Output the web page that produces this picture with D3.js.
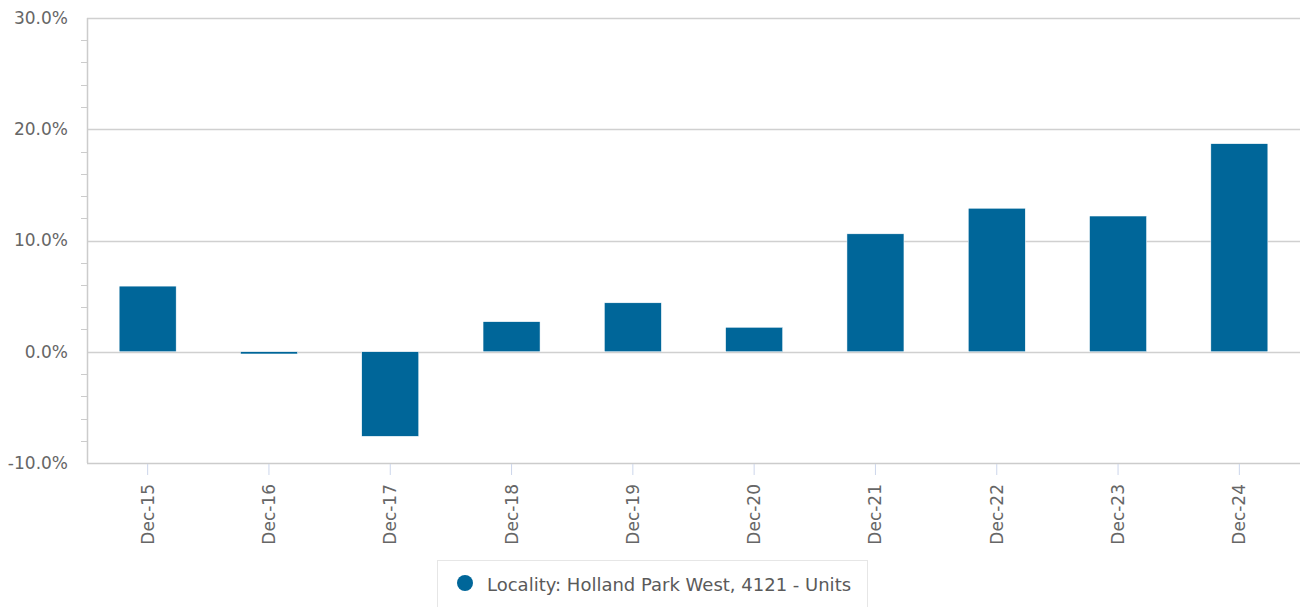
<!DOCTYPE html>
<html><head><meta charset="utf-8">
<script src="https://cdn.jsdelivr.net/npm/d3@7"></script>
<style>
body{margin:0;background:#fff;}
svg text{font-family:'DejaVu Sans','Bitstream Vera Sans',Verdana,sans-serif !important;}
</style></head>
<body>
<svg id="c" width="1304" height="607"></svg>
<script>
const categories = ["Dec-15","Dec-16","Dec-17","Dec-18","Dec-19","Dec-20","Dec-21","Dec-22","Dec-23","Dec-24"];
const values = [5.9, -0.2, -7.6, 2.7, 4.4, 2.2, 10.6, 12.9, 12.2, 18.7];
const yTicks = [-10, 0, 10, 20, 30];
const seriesName = "Locality: Holland Park West, 4121 - Units";

const svg = d3.select("#c");
const L = 87, R = 1300, T = 18, B = 463;
const x = d3.scaleBand().domain(categories).range([L, R]);
const y = d3.scaleLinear().domain([-10, 30]).range([B, T]);
const color = "#006699";

// gridlines
svg.append("g").selectAll("line").data(yTicks.filter(d => d !== -10)).join("line")
  .attr("x1", L).attr("x2", R).attr("y1", d => Math.round(y(d)) + 0.5).attr("y2", d => Math.round(y(d)) + 0.5)
  .attr("stroke", "#d0d0d0").attr("stroke-width", 1.5);

// minor ticks
const minor = d3.range(-10, 30.01, 2).filter(d => d % 10 !== 0);
svg.append("g").selectAll("line").data(minor).join("line")
  .attr("x1", L - 6).attr("x2", L).attr("y1", d => Math.round(y(d)) + 0.5).attr("y2", d => Math.round(y(d)) + 0.5)
  .attr("stroke", "#ccc").attr("stroke-width", 1);

// y axis line
svg.append("line").attr("x1", L + 0.5).attr("x2", L + 0.5).attr("y1", T).attr("y2", B)
  .attr("stroke", "#ccc").attr("stroke-width", 1.5);

// y labels
const yAxis = d3.axisLeft(y).tickValues(yTicks).tickSize(0).tickPadding(0)
  .tickFormat(d => (d < 0 ? "-" : "") + d3.format(".1f")(Math.abs(d)) + "%");
const ya = svg.append("g").attr("transform", `translate(${L - 19},0)`).call(yAxis);
ya.select(".domain").remove();
ya.selectAll("text").attr("font-size", 17).attr("fill", "#666");

// bars
svg.append("g").selectAll("rect").data(values).join("rect")
  .attr("x", (d, i) => x(categories[i]) + (x.bandwidth() - 57) / 2)
  .attr("width", 57)
  .attr("y", d => y(Math.max(0, d)))
  .attr("height", d => Math.abs(y(d) - y(0)))
  .attr("fill", color).attr("stroke", "#fff").attr("stroke-width", 0.5);

// x axis line
svg.append("line").attr("x1", L).attr("x2", R).attr("y1", B + 0.5).attr("y2", B + 0.5)
  .attr("stroke", "#ccc").attr("stroke-width", 1.5);

// x axis ticks and labels
const xAxis = d3.axisBottom(x).tickSize(11).tickPadding(6);
const xa = svg.append("g").attr("transform", `translate(0,${B + 1})`).call(xAxis);
xa.select(".domain").remove();
xa.selectAll(".tick line").attr("stroke", "#ccd6eb");
xa.selectAll("text").attr("font-size", 17).attr("fill", "#666")
  .attr("transform", "rotate(-90)").attr("text-anchor", "end").attr("dy", "0.35em")
  .attr("x", -20).attr("y", 0);

// legend
const lg = svg.append("g");
lg.append("rect").attr("x", 437.5).attr("y", 560.5).attr("width", 430).attr("height", 60)
  .attr("fill", "#fff").attr("stroke", "#e6e6e6");
lg.append("circle").attr("cx", 465).attr("cy", 583).attr("r", 8).attr("fill", color);
lg.append("text").attr("x", 487).attr("y", 585).attr("dy", "0.35em").attr("font-size", 18)
  .attr("fill", "#5a5a5a").text(seriesName);
</script>
</body></html>
